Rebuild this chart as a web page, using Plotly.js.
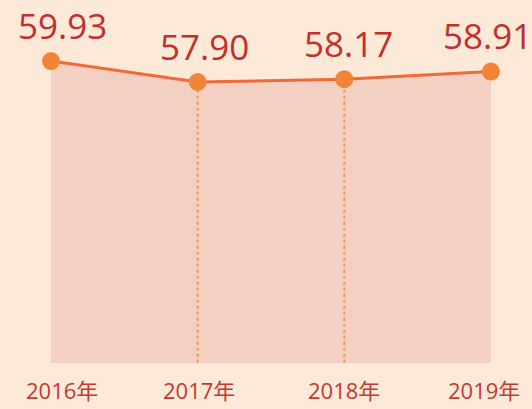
<!DOCTYPE html>
<html>
<head>
<meta charset="utf-8">
<script src="https://cdn.plot.ly/plotly-3.0.1.min.js"></script>
<style>
html,body{margin:0;padding:0;background:#fde9d7;}
#chart{width:532px;height:409px;}
</style>
</head>
<body>
<div id="chart"></div>
<script>
const categories = ["2016年", "2017年", "2018年", "2019年"];
const values = [59.93, 57.90, 58.17, 58.91];
const valueLabels = ["59.93", "57.90", "58.17", "58.91"];
const droplineIdx = [1, 2];

const labelShift = [11, 7, 4, -3];
const tickShift = [11, 1, 0, -7];
const xIdx = categories.map((c, i) => i);

const traces = [];
traces.push({
  x: xIdx, y: values, type: 'scatter', mode: 'none',
  fill: 'tozeroy', fillcolor: '#f3d0c2', hoverinfo: 'skip', showlegend: false
});
droplineIdx.forEach(i => {
  traces.push({
    x: [i, i], y: [0, values[i]], type: 'scatter', mode: 'lines',
    line: {color: '#f4955a', width: 2, dash: 'dot'}, showlegend: false, hoverinfo: 'skip'
  });
});
traces.push({
  x: xIdx, y: values, type: 'scatter', mode: 'lines+markers',
  line: {color: '#ee6a3a', width: 3},
  marker: {color: '#f28535', size: 18},
  showlegend: false, cliponaxis: false
});

const annotations = [];
values.forEach((v, i) => {
  annotations.push({
    x: i, y: v, xref: 'x', yref: 'y', text: valueLabels[i], showarrow: false,
    yshift: 36, xshift: labelShift[i],
    font: {family: 'Open Sans, Noto Sans CJK SC, sans-serif', size: 35, color: '#c0302c'}
  });
  annotations.push({
    x: i, y: 0, xref: 'x', yref: 'paper', text: categories[i], showarrow: false,
    yanchor: 'middle', yshift: -27, xshift: tickShift[i],
    font: {family: 'Open Sans, Noto Sans CJK SC, sans-serif', size: 22, color: '#c23a30'}
  });
});

const layout = {
  width: 532, height: 409,
  margin: {l: 0, r: 0, t: 0, b: 46},
  paper_bgcolor: '#fde9d7', plot_bgcolor: '#fde9d7',
  xaxis: {range: [-0.348, 3.28], visible: false, showgrid: false, zeroline: false},
  yaxis: {range: [30.73, 65.83], visible: false, showgrid: false, zeroline: false},
  annotations: annotations
};

Plotly.newPlot('chart', traces, layout, {displayModeBar: false, staticPlot: true});
</script>
</body>
</html>
